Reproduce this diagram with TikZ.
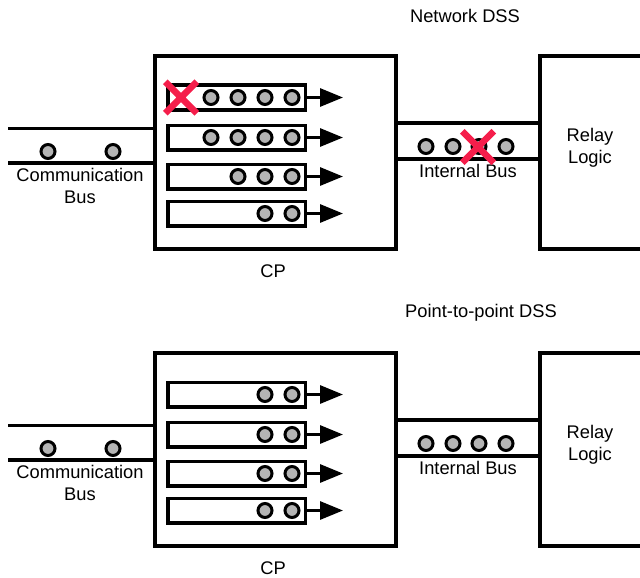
\documentclass[tikz,border=0pt]{standalone}
\usepackage{fontspec}
\setmainfont{Liberation Sans}
\usetikzlibrary{arrows.meta,positioning,shapes.misc}
\definecolor{dotgray}{RGB}{180,180,180}
\definecolor{crossred}{RGB}{245,30,75}
\begin{document}
\begin{tikzpicture}[x=1pt,y=-1pt,
    every node/.style={font=\fontsize{18.3}{22}\selectfont,align=center},
    box/.style={draw,line width=4pt,minimum width=241pt,minimum height=193pt,inner sep=0pt},
    queue/.style={draw,line width=3.5pt,minimum width=137.5pt,minimum height=24.5pt,inner sep=0pt},
    dot/.style={circle,draw,line width=3pt,fill=dotgray,minimum size=14pt,inner sep=0pt},
    bus/.style={line width=3.5pt},
    lost/.style={cross out,draw=crossred,line width=6.5pt,minimum width=25pt,minimum height=25pt,inner sep=0pt}]
  \path[use as bounding box,clip] (0,0) rectangle (640,578);
  % parts shared by both panels
  \foreach \p/\dy in {net/0,p2p/297}{
    \node[box] (cp-\p) at (275.5,{152.5+\dy}) {};
    \node (cplabel-\p) at (273,{271+\dy}) {CP};
    \node[box,minimum width=200pt,anchor=west] (relay-\p) at (538,{152.5+\dy}) {};
    \node (relaytext-\p) at (590,{148+\dy}) {Relay\\Logic};
    % communication bus
    \coordinate (cbtop-\p) at (8,{128.5+\dy});
    \coordinate (cbbot-\p) at (8,{163+\dy});
    \draw[bus] (cbtop-\p) -- (cbtop-\p -| cp-\p.west);
    \draw[bus] (cbbot-\p) -- (cbbot-\p -| cp-\p.west);
    \node[dot] (cbd1-\p) at (48,{151.5+\dy}) {};
    \node[dot] (cbd2-\p) at (113,{151.5+\dy}) {};
    \node (cbtext-\p) at (80,{186+\dy}) {Communication\\Bus};
    % internal bus
    \coordinate (ibtop-\p) at (398,{123+\dy});
    \coordinate (ibbot-\p) at (398,{159+\dy});
    \draw[bus] (ibtop-\p -| cp-\p.east) -- (ibtop-\p -| relay-\p.west);
    \draw[bus] (ibbot-\p -| cp-\p.east) -- (ibbot-\p -| relay-\p.west);
    \node (ibtext-\p) at (468,{170.5+\dy}) {Internal Bus};
    % queues
    \foreach \r/\y in {1/97.5,2/137.5,3/176.5,4/213.5}{
      \node[queue] (q\r-\p) at (236.5,{\y+\dy}) {};
      \coordinate (qend\r-\p) at (343,{\y+\dy});
      \draw[-{Triangle[length=23pt,width=18pt]},line width=3pt] (q\r-\p) -- (qend\r-\p);
    }
  }
  % network DSS
  \node (title-net) at (465,16) {Network DSS};
  \foreach \r/\y/\n in {1/97.5/4,2/137.5/4,3/176.5/3,4/213.5/2}
    \foreach \k in {1,...,\n}
      \node[dot] (q\r d\k-net) at ({292-27*(\k-1)},\y) {};
  \node[lost] (lostq-net) at (181,97.5) {};
  \foreach \k/\x in {1/426,2/453,3/479,4/506}
    \node[dot] (ibd\k-net) at (\x,146.5) {};
  \node[lost] (lostib-net) at (478,147) {};
  % point-to-point DSS
  \node (title-p2p) at (481,313) {Point-to-point DSS};
  \foreach \r/\y in {1/394.5,2/434.5,3/473.5,4/510.5}
    \foreach \k in {1,2}
      \node[dot] (q\r d\k-p2p) at ({292-27*(\k-1)},\y) {};
  \foreach \k/\x in {1/426,2/453,3/479,4/506}
    \node[dot] (ibd\k-p2p) at (\x,443.5) {};
\end{tikzpicture}
\end{document}
